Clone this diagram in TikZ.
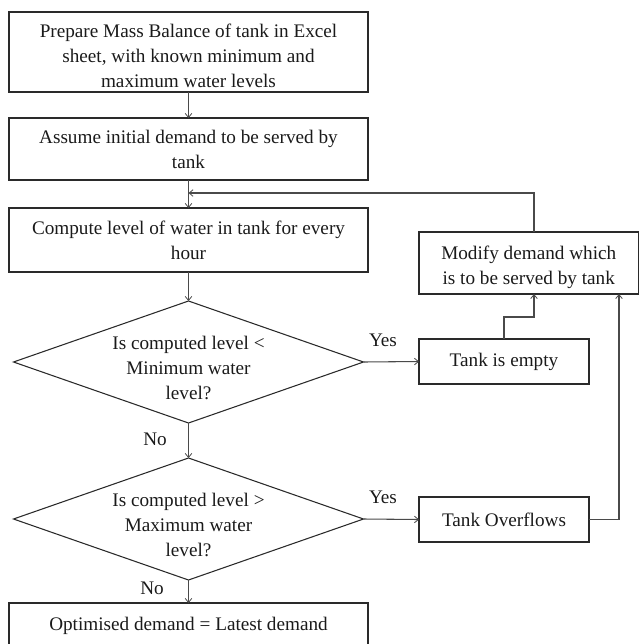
\documentclass[tikz,border=0pt]{standalone}
\usepackage{fontspec}
\setmainfont{Liberation Serif}
\usetikzlibrary{arrows.meta,shapes.geometric}
\definecolor{boxline}{HTML}{2A2A2A}
\definecolor{wire}{HTML}{4A4A4A}
\definecolor{ink}{HTML}{1A1A1A}
% taller first line, pushes a centred block of lines a little lower
\newcommand{\lowerstart}{\rule{0pt}{16pt}}
\begin{document}
\begin{tikzpicture}[x=0.75pt,y=-0.75pt,
  font=\fontsize{14.4}{18.75}\selectfont,
  text=ink,
  stepbox/.style={draw=boxline, line width=0.8pt, inner sep=0pt, outer sep=0pt, align=center},
  decision/.style={diamond, draw=boxline, line width=0.8pt, inner sep=0pt, outer sep=0pt,
    minimum width=262.5pt, minimum height=91.5pt},
  flow/.style={draw=wire, line width=0.8pt, -{Straight Barb[length=3pt,width=5pt,line width=0.6pt]}},
  tag/.style={inner sep=0pt}]
\useasboundingbox (0,0) rectangle (639,644);

% main column
\node[stepbox, minimum width=269.25pt, minimum height=60pt] (prep) at (188.5,52)
  {\lowerstart Prepare Mass Balance of tank in Excel\\ sheet, with known minimum and\\ maximum water levels};
\node[stepbox, minimum width=269.25pt, minimum height=46.5pt] (init) at (188.5,149)
  {Assume initial demand to be served by\\ tank};
\node[stepbox, minimum width=269.25pt, minimum height=48pt] (calc) at (188.5,240)
  {Compute level of water in tank for every\\ hour};
\node[decision] (low) at (188.5,362) {};
\node[align=center, inner sep=0pt] (lowtxt) at (188.5,368)
  {Is computed level <\\ Minimum water\\ level?};
\node[decision] (high) at (188.5,519) {};
\node[align=center, inner sep=0pt] (hightxt) at (188.5,525)
  {Is computed level >\\ Maximum water\\ level?};
\node[stepbox, minimum width=269.25pt, minimum height=35.25pt, anchor=north] (final) at (188.5,603)
  {\raisebox{4.5pt}{Optimised demand = Latest demand}};

% right column
\node[stepbox, minimum width=164.6pt, minimum height=46.5pt] (modify) at (528.75,263)
  {\lowerstart Modify demand which\\ is to be served by tank};
\node[stepbox, minimum width=127.5pt, minimum height=33.75pt] (empty) at (504,361.5)
  {Tank is empty};
\node[stepbox, minimum width=127.5pt, minimum height=33.75pt] (over) at (504,519.5)
  {Tank Overflows};

% branch labels
\node[tag] (yes1) at (383,340) {Yes};
\node[tag] (yes2) at (383,497) {Yes};
\node[tag] (no1) at (155,439) {No};
\node[tag] (no2) at (152,588) {No};

% routing points
\coordinate (loopin) at (188.5,193);
\coordinate (loopup) at (534,193);
\coordinate (emptyjog) at (534,317);
\coordinate (overside) at (619,519.5);

% connectors
\draw[flow] (prep) -- (init);
\draw[flow] (init) -- (calc);
\draw[flow] (calc) -- (low.north);
\draw[flow] (low.south) -- (high.north);
\draw[flow] (high.south) -- (final);
\draw[flow] (low.east) -- (empty.west);
\draw[flow] (high.east) -- (over.west);
\draw[flow] (empty.north) |- (emptyjog) -- (emptyjog |- modify.south);
\draw[flow] (over.east) -- (overside) -- (overside |- modify.south);
\draw[flow] (loopup |- modify.north) -- (loopup) -- (loopin);
\end{tikzpicture}
\end{document}
